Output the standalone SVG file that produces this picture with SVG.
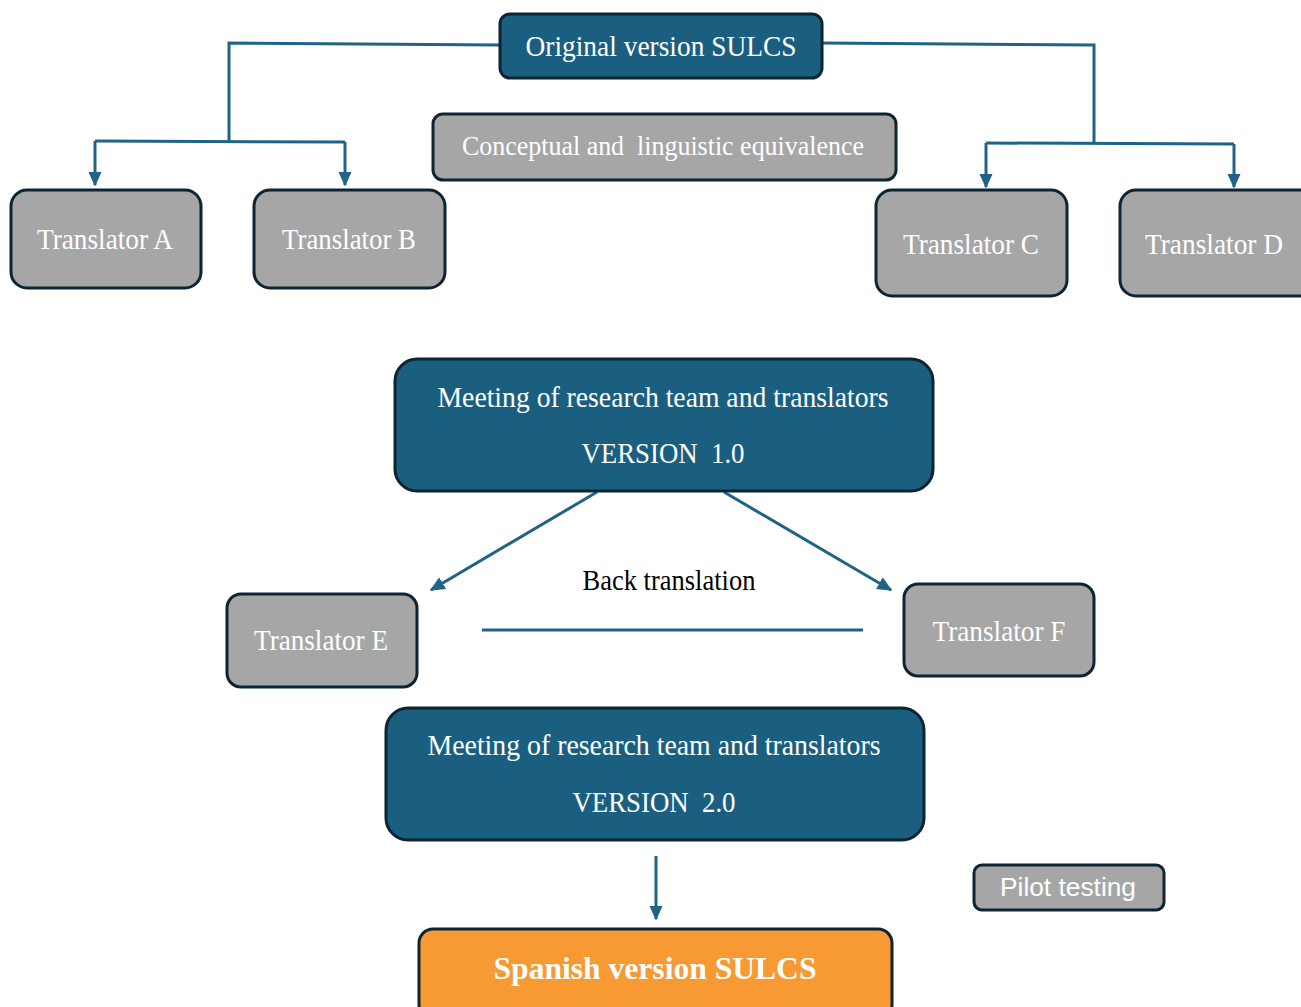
<svg xmlns="http://www.w3.org/2000/svg" width="1301" height="1007" viewBox="0 0 1301 1007">
<defs>
<marker id="ah" viewBox="0 0 10 10" refX="9" refY="5" markerWidth="5" markerHeight="4.5" markerUnits="strokeWidth" orient="auto" preserveAspectRatio="none">
<path d="M0,0 L10,5 L0,10 z" fill="#1f6386"/>
</marker>
<style>
.blue{fill:#1b5f80;stroke:#0d2433;stroke-width:3}
.gray{fill:#a6a6a6;stroke:#0d2433;stroke-width:3}
.orange{fill:#f79a33;stroke:#0d2433;stroke-width:3}
.t{font-family:"Liberation Serif","Times New Roman",serif;fill:#ffffff;text-anchor:middle;dominant-baseline:central}
.s{font-family:"Liberation Sans Narrow","Liberation Sans",Arial,sans-serif;fill:#ffffff;text-anchor:middle;dominant-baseline:central}
.c{fill:none;stroke:#1f6386;stroke-width:3}
</style>
</defs>
<rect width="1301" height="1007" fill="#ffffff"/>
<g id="connectors">
<polyline class="c" points="500,45 229,43 229,141"/>
<polyline class="c" points="95,141 345,142"/>
<line class="c" x1="95" y1="141" x2="95" y2="185" marker-end="url(#ah)"/>
<line class="c" x1="345" y1="142" x2="345" y2="185" marker-end="url(#ah)"/>
<polyline class="c" points="822,43 1094,45 1094,142"/>
<polyline class="c" points="986,143 1234,144"/>
<line class="c" x1="986" y1="143" x2="986" y2="187" marker-end="url(#ah)"/>
<line class="c" x1="1234" y1="144" x2="1234" y2="187" marker-end="url(#ah)"/>
<line class="c" x1="597" y1="492" x2="431" y2="590" marker-end="url(#ah)"/>
<line class="c" x1="724" y1="492" x2="891" y2="590" marker-end="url(#ah)"/>
<line class="c" x1="482" y1="630" x2="863" y2="630"/>
<line class="c" x1="656" y1="856" x2="656" y2="919" marker-end="url(#ah)"/>
</g>
<g id="original">
<rect class="blue" x="500" y="14" width="322" height="64" rx="10"/>
<text class="t" x="661" y="45" font-size="30" textLength="271" lengthAdjust="spacingAndGlyphs">Original version SULCS</text>
</g>
<g id="conceptual">
<rect class="gray" x="433" y="114" width="463" height="66" rx="10"/>
<text class="t" x="663" y="146" font-size="27" textLength="402" lengthAdjust="spacingAndGlyphs" xml:space="preserve">Conceptual and  linguistic equivalence</text>
</g>
<g id="translatorA">
<rect class="gray" x="11" y="190" width="190" height="98" rx="16"/>
<text class="t" x="105" y="238" font-size="30" textLength="136" lengthAdjust="spacingAndGlyphs">Translator A</text>
</g>
<g id="translatorB">
<rect class="gray" x="254" y="190" width="191" height="98" rx="16"/>
<text class="t" x="349" y="238" font-size="30" textLength="134" lengthAdjust="spacingAndGlyphs">Translator B</text>
</g>
<g id="translatorC">
<rect class="gray" x="876" y="190" width="191" height="106" rx="16"/>
<text class="t" x="971" y="243" font-size="30" textLength="136" lengthAdjust="spacingAndGlyphs">Translator C</text>
</g>
<g id="translatorD">
<rect class="gray" x="1120" y="190" width="195" height="106" rx="16"/>
<text class="t" x="1214" y="243" font-size="30" textLength="138" lengthAdjust="spacingAndGlyphs">Translator D</text>
</g>
<g id="meeting1">
<rect class="blue" x="395" y="359" width="538" height="132" rx="22"/>
<text class="t" x="663" y="396" font-size="30" textLength="451" lengthAdjust="spacingAndGlyphs">Meeting of research team and translators</text>
<text class="t" x="663" y="452" font-size="30" textLength="163" lengthAdjust="spacingAndGlyphs" xml:space="preserve">VERSION  1.0</text>
</g>
<g id="backlabel">
<text x="669" y="580" font-family="Liberation Serif,'Times New Roman',serif" font-size="29" fill="#000000" text-anchor="middle" dominant-baseline="central" textLength="173" lengthAdjust="spacingAndGlyphs">Back translation</text>
</g>
<g id="translatorE">
<rect class="gray" x="227" y="594" width="190" height="93" rx="14"/>
<text class="t" x="321" y="639" font-size="30" textLength="134" lengthAdjust="spacingAndGlyphs">Translator E</text>
</g>
<g id="translatorF">
<rect class="gray" x="904" y="584" width="190" height="92" rx="14"/>
<text class="t" x="999" y="630" font-size="30" textLength="133" lengthAdjust="spacingAndGlyphs">Translator F</text>
</g>
<g id="meeting2">
<rect class="blue" x="386" y="708" width="538" height="132" rx="22"/>
<text class="t" x="654" y="744" font-size="30" textLength="453" lengthAdjust="spacingAndGlyphs">Meeting of research team and translators</text>
<text class="t" x="654" y="801" font-size="30" textLength="163" lengthAdjust="spacingAndGlyphs" xml:space="preserve">VERSION  2.0</text>
</g>
<g id="pilot">
<rect class="gray" x="974" y="865" width="190" height="45" rx="8"/>
<text class="s" x="1068" y="887" font-size="26" textLength="136" lengthAdjust="spacingAndGlyphs">Pilot testing</text>
</g>
<g id="spanish">
<rect class="orange" x="419" y="929" width="473" height="90" rx="14"/>
<text class="t" x="655" y="968" font-size="32" font-weight="bold" textLength="323" lengthAdjust="spacingAndGlyphs">Spanish version SULCS</text>
</g>
</svg>
